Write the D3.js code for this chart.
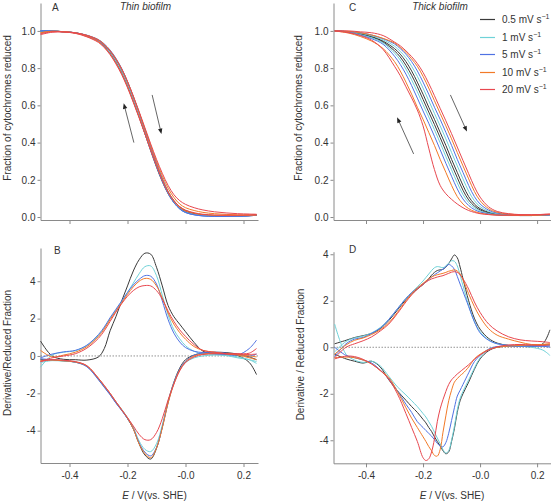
<!DOCTYPE html>
<html><head><meta charset="utf-8">
<script src="https://cdn.jsdelivr.net/npm/d3@7"></script>
<style>body{margin:0;background:#fff}svg{display:block;font-family:"Liberation Sans",Arial,sans-serif}</style>
</head><body><svg id="c" width="554" height="503"></svg>
<script>
// ---------- data ----------
const scanRates = ["0.5", "1", "5", "10", "20"];
const seriesColors = ["#3a3a3a", "#6fd2d8", "#4f72e3", "#f27a28", "#e8474f"];

const xTickValues = [-0.4, -0.2, 0, 0.2];
const xTickLabels = ["-0.4", "-0.2", "-0.0", "0.2"];
const fracTicks = [0, 0.2, 0.4, 0.6, 0.8, 1.0];
const derivTicks = [-4, -2, 0, 2, 4];

// potential grids (V vs SHE)
const eThin = [-0.50,-0.46,-0.42,-0.38,-0.34,-0.30,-0.28,-0.26,-0.24,-0.22,-0.20,-0.18,-0.16,-0.14,-0.12,-0.10,-0.08,-0.06,-0.04,-0.02,0.00,0.03,0.06,0.10,0.14,0.18,0.22,0.245];
const eThick = [-0.51,-0.46,-0.42,-0.38,-0.34,-0.30,-0.28,-0.26,-0.24,-0.22,-0.20,-0.18,-0.16,-0.14,-0.12,-0.10,-0.08,-0.06,-0.04,-0.02,0.00,0.03,0.06,0.10,0.14,0.18,0.22,0.245];
const eThickDeriv = [-0.51,-0.47,-0.44,-0.41,-0.38,-0.35,-0.32,-0.29,-0.26,-0.24,-0.22,-0.20,-0.19,-0.18,-0.17,-0.16,-0.15,-0.14,-0.13,-0.12,-0.11,-0.10,-0.09,-0.08,-0.07,-0.06,-0.04,-0.02,0.00,0.03,0.06,0.10,0.14,0.18,0.22,0.245];

// Panel A: thin biofilm, fraction reduced (oxidative / reductive scans), order = scanRates
const thinFracOx = [
  [1.0,1.0,0.995,0.99,0.975,0.95,0.925,0.89,0.845,0.79,0.72,0.642,0.557,0.465,0.372,0.285,0.205,0.137,0.088,0.055,0.035,0.02,0.012,0.008,0.006,0.006,0.008,0.01],
  [1.0,1.0,0.995,0.99,0.976,0.952,0.928,0.894,0.85,0.795,0.725,0.645,0.56,0.47,0.378,0.29,0.208,0.136,0.082,0.046,0.026,0.014,0.008,0.005,0.004,0.005,0.008,0.012],
  [1.0,1.0,0.996,0.99,0.977,0.953,0.93,0.897,0.853,0.798,0.728,0.648,0.562,0.47,0.378,0.288,0.205,0.133,0.08,0.045,0.025,0.012,0.006,0.003,0.003,0.004,0.006,0.01],
  [0.99,0.998,0.996,0.99,0.976,0.952,0.928,0.894,0.85,0.795,0.727,0.648,0.563,0.474,0.385,0.3,0.222,0.155,0.105,0.07,0.05,0.035,0.025,0.018,0.014,0.012,0.012,0.013],
  [0.98,0.993,0.995,0.99,0.976,0.95,0.925,0.892,0.848,0.795,0.728,0.65,0.567,0.48,0.393,0.31,0.235,0.17,0.12,0.088,0.068,0.05,0.038,0.028,0.022,0.018,0.016,0.015]
];
const thinFracRed = [
  [1.0,1.0,0.995,0.99,0.973,0.945,0.918,0.882,0.835,0.778,0.707,0.626,0.54,0.448,0.356,0.268,0.19,0.125,0.078,0.047,0.03,0.017,0.01,0.006,0.005,0.005,0.007,0.009],
  [1.0,1.0,0.995,0.99,0.974,0.947,0.92,0.885,0.838,0.782,0.712,0.632,0.547,0.456,0.364,0.277,0.197,0.128,0.078,0.044,0.025,0.013,0.007,0.004,0.004,0.005,0.008,0.012],
  [1.0,1.0,0.995,0.99,0.972,0.944,0.915,0.878,0.83,0.772,0.702,0.622,0.538,0.448,0.358,0.272,0.193,0.126,0.077,0.043,0.024,0.012,0.006,0.004,0.004,0.005,0.007,0.011],
  [0.99,0.998,0.995,0.988,0.97,0.942,0.913,0.876,0.828,0.77,0.7,0.62,0.537,0.45,0.362,0.278,0.2,0.133,0.085,0.052,0.033,0.02,0.013,0.009,0.008,0.008,0.009,0.01],
  [0.985,0.995,0.994,0.987,0.968,0.938,0.91,0.872,0.823,0.765,0.695,0.616,0.533,0.447,0.36,0.277,0.2,0.135,0.088,0.056,0.037,0.023,0.015,0.011,0.01,0.01,0.011,0.012]
];

// Panel B: thin biofilm, derivative
const thinDerivOx = [
  [0.8,0.0,-0.18,-0.2,-0.22,-0.05,0.4,1.35,2.1,2.95,3.75,4.55,5.15,5.5,5.45,4.75,3.75,2.7,2.1,1.7,1.3,0.72,0.26,0.12,0.1,0.02,-0.35,-1.0],
  [-0.6,0.05,0.2,0.28,0.55,1.1,1.5,2.0,2.45,2.9,3.4,3.9,4.4,4.78,4.82,4.3,3.25,2.2,1.4,0.92,0.55,0.25,0.12,0.08,0.05,-0.05,-0.2,-0.4],
  [-0.1,0.1,0.22,0.3,0.58,1.15,1.55,2.05,2.5,2.95,3.4,3.8,4.1,4.3,4.27,3.85,2.95,1.95,1.22,0.75,0.45,0.25,0.18,0.12,0.08,0.05,0.4,0.85],
  [0.3,-0.05,0.05,0.2,0.5,1.05,1.45,1.95,2.4,2.85,3.3,3.7,4.0,4.15,4.1,3.75,3.1,2.3,1.7,1.25,0.9,0.5,0.3,0.2,0.12,0.05,-0.1,-0.2],
  [-0.3,-0.1,0.0,0.12,0.42,0.95,1.35,1.85,2.35,2.8,3.2,3.5,3.7,3.77,3.75,3.5,3.05,2.4,1.85,1.4,1.05,0.6,0.3,0.2,0.12,0.12,0.15,0.4]
];
const thinDerivRed = [
  [-0.2,-0.22,-0.26,-0.33,-0.55,-1.25,-1.65,-2.05,-2.5,-2.9,-3.35,-3.9,-4.7,-5.3,-5.52,-4.95,-3.8,-2.45,-1.4,-0.65,-0.2,0.05,0.15,0.2,0.18,0.1,-0.05,-0.2],
  [-0.35,-0.25,-0.28,-0.33,-0.55,-1.22,-1.62,-2.02,-2.45,-2.85,-3.3,-3.82,-4.55,-5.0,-5.12,-4.7,-3.7,-2.45,-1.45,-0.75,-0.35,-0.1,0.0,0.05,0.02,-0.1,-0.2,-0.3],
  [-0.15,-0.2,-0.25,-0.33,-0.58,-1.28,-1.68,-2.08,-2.52,-2.92,-3.35,-3.88,-4.65,-5.15,-5.35,-4.9,-3.82,-2.5,-1.45,-0.7,-0.28,0.05,0.15,0.2,0.15,0.05,0.0,0.1],
  [-0.25,-0.22,-0.26,-0.32,-0.53,-1.2,-1.6,-2.0,-2.45,-2.88,-3.32,-3.9,-4.7,-5.22,-5.45,-4.92,-3.85,-2.52,-1.5,-0.75,-0.32,0.0,0.1,0.15,0.12,0.08,0.0,-0.05],
  [-0.3,-0.2,-0.23,-0.3,-0.52,-1.2,-1.58,-2.0,-2.45,-2.88,-3.3,-3.75,-4.2,-4.48,-4.48,-4.1,-3.35,-2.35,-1.5,-0.8,-0.35,-0.05,0.08,0.12,0.12,0.1,0.08,0.1]
];

// Panel C: thick biofilm, fraction reduced
const thickFracOx = [
  [1.0,0.995,0.985,0.97,0.945,0.905,0.875,0.835,0.785,0.725,0.66,0.59,0.525,0.455,0.385,0.31,0.24,0.17,0.11,0.07,0.045,0.025,0.015,0.01,0.008,0.008,0.01,0.012],
  [1.0,0.996,0.988,0.974,0.952,0.918,0.89,0.856,0.81,0.756,0.693,0.625,0.557,0.49,0.42,0.347,0.275,0.205,0.138,0.088,0.056,0.03,0.018,0.011,0.009,0.009,0.01,0.012],
  [1.0,0.996,0.99,0.978,0.958,0.93,0.905,0.875,0.835,0.785,0.725,0.66,0.59,0.525,0.455,0.385,0.31,0.24,0.17,0.11,0.07,0.037,0.021,0.013,0.01,0.009,0.01,0.012],
  [1.0,0.997,0.99,0.978,0.96,0.935,0.912,0.885,0.85,0.81,0.756,0.693,0.625,0.557,0.49,0.42,0.347,0.275,0.205,0.138,0.088,0.045,0.025,0.016,0.012,0.01,0.012,0.014],
  [1.0,1.0,0.995,0.99,0.975,0.94,0.92,0.893,0.862,0.825,0.777,0.718,0.652,0.584,0.517,0.448,0.376,0.304,0.233,0.163,0.107,0.055,0.03,0.018,0.013,0.012,0.014,0.016]
];
const thickFracRed = [
  [1.0,0.995,0.983,0.967,0.94,0.893,0.86,0.815,0.762,0.70,0.632,0.564,0.497,0.427,0.355,0.282,0.212,0.144,0.092,0.059,0.038,0.022,0.013,0.009,0.008,0.008,0.01,0.012],
  [1.0,0.994,0.98,0.963,0.935,0.881,0.844,0.795,0.737,0.673,0.604,0.538,0.469,0.399,0.325,0.254,0.184,0.121,0.077,0.05,0.033,0.019,0.012,0.009,0.008,0.008,0.01,0.012],
  [1.0,0.993,0.977,0.958,0.928,0.864,0.82,0.768,0.706,0.639,0.57,0.504,0.434,0.362,0.289,0.219,0.151,0.097,0.062,0.04,0.027,0.017,0.011,0.008,0.008,0.008,0.01,0.012],
  [1.0,0.988,0.97,0.945,0.905,0.835,0.785,0.725,0.66,0.59,0.525,0.455,0.385,0.31,0.24,0.17,0.11,0.07,0.045,0.03,0.021,0.014,0.011,0.009,0.008,0.009,0.011,0.013],
  [1.0,0.99,0.975,0.95,0.9,0.81,0.76,0.70,0.64,0.575,0.49,0.37,0.255,0.17,0.125,0.095,0.07,0.05,0.035,0.025,0.018,0.013,0.01,0.01,0.01,0.012,0.014,0.016]
];

// Panel D: thick biofilm, derivative
const thickDerivOx = [
  [0.15,0.3,0.42,0.5,0.6,0.8,1.15,1.6,2.05,2.3,2.5,2.7,2.82,2.95,3.1,3.22,3.3,3.33,3.35,3.45,3.6,3.8,3.97,3.85,3.45,2.95,2.0,1.25,0.78,0.38,0.18,0.08,0.05,0.03,0.15,0.75],
  [-0.2,0.25,0.4,0.48,0.62,0.85,1.2,1.65,2.1,2.35,2.6,2.85,3.0,3.15,3.3,3.42,3.47,3.45,3.42,3.5,3.62,3.72,3.7,3.5,3.1,2.65,1.8,1.1,0.68,0.32,0.15,0.08,0.05,0.0,-0.12,-0.35],
  [-0.4,0.15,0.35,0.42,0.6,0.82,1.2,1.65,2.1,2.35,2.55,2.72,2.82,2.92,3.02,3.12,3.2,3.28,3.36,3.46,3.56,3.5,3.35,3.05,2.72,2.4,1.75,1.1,0.62,0.3,0.15,0.08,0.06,0.05,0.05,0.0],
  [-0.3,0.1,0.3,0.4,0.55,0.75,1.05,1.5,2.0,2.3,2.55,2.75,2.85,2.95,3.02,3.08,3.12,3.15,3.18,3.22,3.27,3.3,3.33,3.28,3.15,2.9,2.3,1.75,1.3,0.8,0.52,0.35,0.22,0.12,0.12,0.15],
  [-0.45,0.0,0.15,0.28,0.45,0.7,1.0,1.45,1.95,2.25,2.5,2.7,2.8,2.88,2.94,2.98,3.02,3.05,3.08,3.13,3.18,3.23,3.25,3.22,3.12,2.95,2.5,1.95,1.5,1.0,0.7,0.45,0.32,0.27,0.24,0.2]
];
const thickDerivRed = [
  [-0.3,-0.5,-0.6,-0.68,-0.6,-0.85,-1.4,-1.87,-2.28,-2.55,-2.8,-3.1,-3.25,-3.45,-3.62,-3.85,-4.05,-4.25,-4.45,-4.58,-4.5,-4.05,-3.5,-2.8,-2.3,-2.0,-1.5,-0.95,-0.5,-0.15,0.0,0.05,0.05,0.08,0.1,0.1],
  [1.0,-0.3,-0.55,-0.65,-0.6,-0.8,-1.25,-1.7,-2.05,-2.3,-2.55,-2.85,-3.0,-3.2,-3.4,-3.65,-3.9,-4.15,-4.4,-4.55,-4.45,-4.0,-3.4,-2.7,-2.2,-1.9,-1.4,-0.9,-0.45,-0.1,0.02,0.05,0.05,0.05,0.05,0.05],
  [0.0,-0.35,-0.45,-0.55,-0.68,-0.98,-1.35,-1.87,-2.45,-2.8,-3.2,-3.45,-3.58,-3.7,-3.82,-3.97,-4.13,-4.25,-4.28,-4.1,-3.7,-3.15,-2.6,-2.1,-1.85,-1.6,-1.1,-0.62,-0.35,-0.08,0.03,0.05,0.05,0.05,0.05,0.05],
  [-0.45,-0.42,-0.45,-0.55,-0.72,-1.0,-1.3,-1.9,-2.6,-3.05,-3.45,-3.85,-4.05,-4.27,-4.45,-4.65,-4.68,-4.4,-3.65,-2.95,-2.3,-1.85,-1.5,-1.35,-1.22,-1.12,-0.85,-0.5,-0.3,-0.1,0.0,0.05,0.08,0.1,0.12,0.15],
  [-0.5,-0.38,-0.4,-0.52,-0.72,-1.0,-1.38,-2.0,-2.85,-3.45,-4.05,-4.75,-4.87,-4.8,-4.5,-3.95,-3.2,-2.65,-2.25,-1.9,-1.6,-1.4,-1.27,-1.15,-1.05,-0.95,-0.75,-0.52,-0.33,-0.12,0.02,0.1,0.12,0.1,0.08,0.1]
];

// scan-direction arrows, in data units [E, fraction]
const arrowsThin = [[[-0.178, 0.40], [-0.213, 0.611]], [[-0.115, 0.656], [-0.083, 0.446]]];
const arrowsThick = [[[-0.233, 0.339], [-0.291, 0.536]], [[-0.104, 0.656], [-0.046, 0.459]]];

// ---------- drawing ----------
const svg = d3.select("#c");
const axisColor = "#8a8a8a", textColor = "#333";

const xThin = d3.scaleLinear().domain([-0.5, 0.25]).range([40.5, 258]);
const xThick = d3.scaleLinear().domain([-0.514, 0.247]).range([333.5, 550.5]);
const yFracL = d3.scaleLinear().domain([-0.016, 1.15]).range([220, 3]);
const yFracR = d3.scaleLinear().domain([-0.016, 1.15]).range([220, 3]);
const yDerivB = d3.scaleLinear().domain([-5.73, 5.78]).range([463, 248]);
const yDerivD = d3.scaleLinear().domain([-4.99, 4.11]).range([463.3, 251.7]);

function styleAxis(g) {
  g.select(".domain").attr("stroke", axisColor);
  g.selectAll(".tick line").attr("stroke", axisColor);
  g.selectAll(".tick text").attr("fill", textColor).attr("font-size", 10);
}

function panel(x, y, eArr, oxArr, redArr, opts) {
  const g = svg.append("g");
  g.append("g").attr("transform", `translate(${x.range()[0]},0)`)
    .call(d3.axisLeft(y).tickValues(opts.yTicks).tickSize(3).tickPadding(2).tickSizeOuter(0)
      .tickFormat(opts.yFmt))
    .call(styleAxis);
  const xa = d3.axisBottom(x).tickValues(xTickValues).tickSize(4).tickPadding(5).tickSizeOuter(0)
    .tickFormat((d, i) => opts.xLabels ? xTickLabels[i] : "");
  g.append("g").attr("transform", `translate(0,${y.range()[0]})`).call(xa).call(styleAxis);

  if (opts.zeroLine) {
    g.append("line").attr("x1", x.range()[0]).attr("x2", x.range()[1])
      .attr("y1", y(0)).attr("y2", y(0))
      .attr("stroke", "#777").attr("stroke-width", 0.8).attr("stroke-dasharray", "1.5,1.5");
  }
  const line = d3.line().x(d => x(d[0])).y(d => y(d[1])).curve(d3.curveCatmullRom.alpha(0.5));
  scanRates.forEach((s, i) => {
    [oxArr[i], redArr[i]].forEach(vals => {
      g.append("path").datum(eArr.map((e, k) => [e, vals[k]]))
        .attr("d", line).attr("fill", "none")
        .attr("stroke", seriesColors[i]).attr("stroke-width", 1);
    });
  });
  if (opts.arrows) {
    opts.arrows.forEach(a => {
      const x1 = x(a[0][0]), y1 = y(a[0][1]), x2 = x(a[1][0]), y2 = y(a[1][1]);
      const dx = x2 - x1, dy = y2 - y1, L = Math.hypot(dx, dy), ux = dx / L, uy = dy / L;
      const hl = 5.5, hw = 2.2;
      g.append("line").attr("x1", x1).attr("y1", y1).attr("x2", x2 - ux * hl * 0.6).attr("y2", y2 - uy * hl * 0.6)
        .attr("stroke", "#555").attr("stroke-width", 0.9);
      const bx = x2 - ux * hl, by = y2 - uy * hl;
      g.append("path").attr("d", `M${x2},${y2}L${bx - uy * hw},${by + ux * hw}L${bx + uy * hw},${by - ux * hw}Z`)
        .attr("fill", "#222");
    });
  }
  g.append("text").attr("x", opts.letterPos[0]).attr("y", opts.letterPos[1])
    .attr("font-size", 10).attr("fill", textColor).text(opts.letter);
  g.append("text").attr("transform", `translate(${opts.yLabelX},${opts.yLabelY}) rotate(-90)`)
    .attr("text-anchor", "middle").attr("font-size", 10).attr("fill", textColor).text(opts.yLabel);
  if (opts.title) {
    g.append("text").attr("x", opts.title[1]).attr("y", 10).attr("text-anchor", "middle")
      .attr("font-size", 10).attr("font-style", "italic").attr("fill", textColor).text(opts.title[0]);
  }
  if (opts.xLabels) {
    const t = g.append("text").attr("x", opts.xLabelX).attr("y", 499).attr("text-anchor", "middle")
      .attr("font-size", 10).attr("fill", textColor);
    t.append("tspan").attr("font-style", "italic").text("E");
    t.append("tspan").text(" / V(vs. SHE)");
  }
}

const fmt1 = d => d.toFixed(1);
const fmtInt = d => String(d);

panel(xThin, yFracL, eThin, thinFracOx, thinFracRed, {
  yTicks: fracTicks, yFmt: fmt1, xLabels: false, letter: "A", letterPos: [52, 11],
  yLabel: "Fraction of cytochromes reduced", yLabelX: 10.5, yLabelY: 108,
  title: ["Thin biofilm", 145.5], arrows: arrowsThin
});
panel(xThin, yDerivB, eThin, thinDerivOx, thinDerivRed, {
  yTicks: derivTicks, yFmt: fmtInt, xLabels: true, zeroLine: true, letter: "B", letterPos: [54, 254],
  yLabel: "Derivative/Reduced Fraction", yLabelX: 10.5, yLabelY: 353, xLabelX: 154.5
});
panel(xThick, yFracR, eThick, thickFracOx, thickFracRed, {
  yTicks: fracTicks, yFmt: fmt1, xLabels: false, letter: "C", letterPos: [349, 11],
  yLabel: "Fraction of cytochromes reduced", yLabelX: 302, yLabelY: 108,
  title: ["Thick biofilm", 440], arrows: arrowsThick
});
panel(xThick, yDerivD, eThickDeriv, thickDerivOx, thickDerivRed, {
  yTicks: derivTicks, yFmt: fmtInt, xLabels: true, zeroLine: true, letter: "D", letterPos: [349, 253],
  yLabel: "Derivative / Reduced Fraction", yLabelX: 303.5, yLabelY: 354.5, xLabelX: 452
});

// legend
const leg = svg.append("g");
scanRates.forEach((s, i) => {
  const yy = Math.round(19 + i * 17.5) + 0.5;
  leg.append("line").attr("x1", 480).attr("x2", 495).attr("y1", yy).attr("y2", yy)
    .attr("stroke", seriesColors[i]).attr("stroke-width", 1.2);
  const t = leg.append("text").attr("x", 502).attr("y", yy + 3.5).attr("font-size", 10).attr("fill", textColor);
  t.append("tspan").text(s + " mV s");
  t.append("tspan").attr("dy", -4).attr("font-size", 7).text("\u22121");
});
</script></body></html>
